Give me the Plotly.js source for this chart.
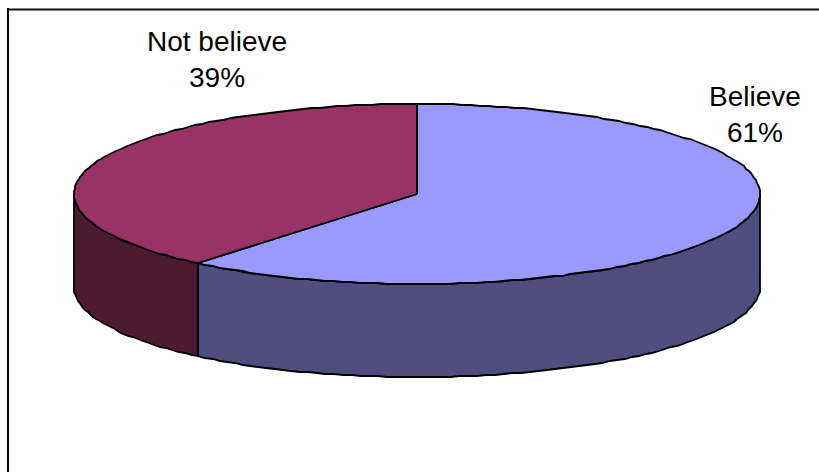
<!DOCTYPE html>
<html>
<head>
<meta charset="utf-8">
<script src="https://cdn.plot.ly/plotly-3.0.1.min.js"></script>
<style>html,body{margin:0;padding:0;background:#fff}#chart{width:819px;height:472px}</style>
</head>
<body>
<div id="chart"></div>
<script>
// Survey shares, drawn clockwise from twelve o'clock
const sliceLabels = ["Believe", "Not believe"];
const sliceValues = [61, 39];
const topColors = ["#9999FF", "#993366"];
const sideColors = ["#4D4D80", "#4D1A33"];
const labelCentreX = [755, 217];
const labelCentreY = [114, 59];

// Tilted-disc projection, in plot units (the axes run one unit per pixel)
const cx = 417, cy = 194, rx = 343, ry = 90, depth = 93;
const stepDeg = 1.5;

const total = sliceValues.reduce((a, b) => a + b, 0);

// Rim vertices snap to whole pixels, which gives the outline a slightly rough edge
function rimPoint(deg, drop) {
  const t = deg * Math.PI / 180;
  return [Math.round(cx + rx * Math.sin(t)), Math.round(cy - ry * Math.cos(t) + drop)];
}

function arc(from, to, drop) {
  const pts = [];
  const n = Math.max(1, Math.round(Math.abs(to - from) / stepDeg));
  for (let i = 0; i <= n; i++) pts.push(rimPoint(from + (to - from) * i / n, drop));
  return pts;
}

function polygonTrace(pts, color) {
  return {
    type: "scatter", mode: "lines", fill: "toself", fillcolor: color,
    x: pts.map(p => p[0]), y: pts.map(p => p[1]),
    line: {color: "#000", width: 1.8, shape: "linear", simplify: false},
    hoverinfo: "skip", showlegend: false
  };
}

const walls = [], faces = [];
let start = 0;
sliceValues.forEach((v, i) => {
  const end = start + v / total * 360;
  // Only the part of the rim facing the viewer gets a wall
  const a = Math.max(start, 90), b = Math.min(end, 270);
  if (b > a) {
    const pts = arc(a, b, 0).concat(arc(b, a, depth));
    pts.push(pts[0]);
    walls.push(polygonTrace(pts, sideColors[i]));
  }
  const face = [[cx, cy]].concat(arc(start, end, 0));
  face.push([cx, cy]);
  faces.push(polygonTrace(face, topColors[i]));
  start = end;
});

const annotations = sliceLabels.map((name, i) => ({
  x: labelCentreX[i], y: labelCentreY[i], xref: "x", yref: "y",
  xanchor: "center", yanchor: "middle", showarrow: false, align: "center",
  text: name + "<br>" + sliceValues[i] + "%",
  font: {family: "Liberation Sans, Arial, sans-serif", size: 28, color: "#000"}
}));

const layout = {
  width: 819, height: 472,
  margin: {l: 0, r: 0, t: 0, b: 0},
  paper_bgcolor: "#fff", plot_bgcolor: "#fff",
  xaxis: {range: [0, 819], visible: false, fixedrange: true},
  yaxis: {range: [472, 0], visible: false, fixedrange: true},
  showlegend: false,
  annotations: annotations,
  shapes: [
    {type: "line", xref: "x", yref: "y", x0: 7, x1: 819, y0: 9.5, y1: 9.5, line: {color: "#111", width: 2.2}},
    {type: "line", xref: "x", yref: "y", x0: 8, x1: 8, y0: 8, y1: 472, line: {color: "#000", width: 2}}
  ]
};

Plotly.newPlot("chart", walls.concat(faces), layout, {displayModeBar: false, staticPlot: true});
</script>
</body>
</html>
